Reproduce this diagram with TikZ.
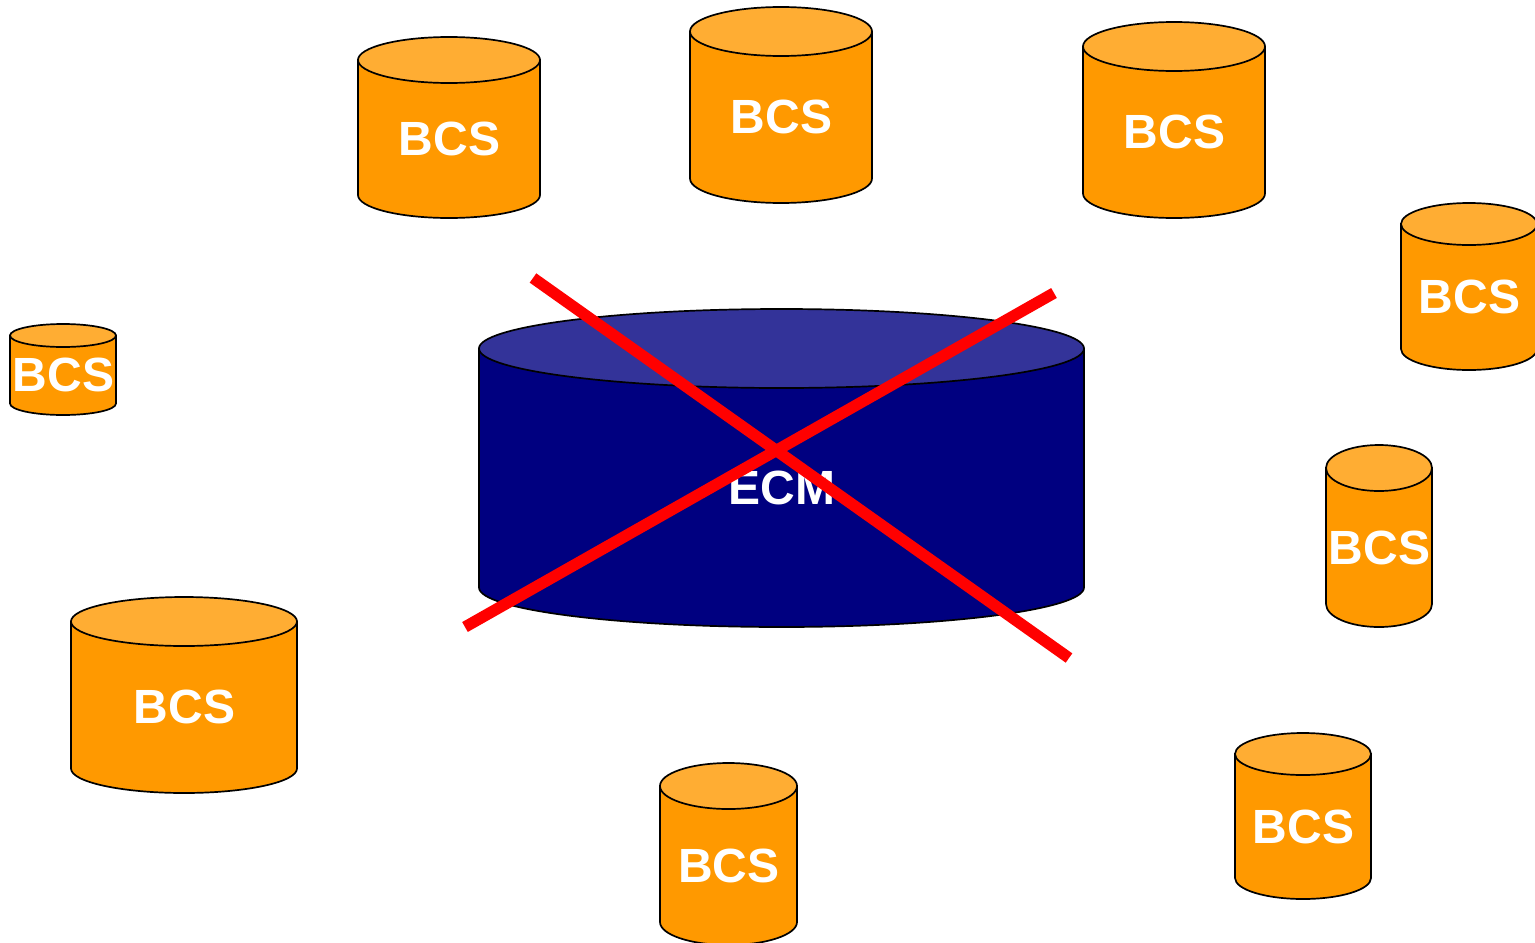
\documentclass[tikz,border=0pt]{standalone}
\usepackage{fontspec}
\setmainfont{Liberation Sans}
\usepackage{xcolor}
\usetikzlibrary{positioning, calc}
\definecolor{bcsbody}{HTML}{FF9900}
\definecolor{bcstop}{HTML}{FFAD33}
\definecolor{ecmbody}{HTML}{000080}
\definecolor{ecmtop}{HTML}{333399}
\tikzset{
    drum_line/.style={draw=black, line width=0.85pt},
    drum_text/.style={text=white, font=\bfseries\fontsize{24}{26}\selectfont, inner sep=0pt},
    cross_line/.style={draw=red, line width=5.7pt}
}
% name, left, right, top, bottom, radius of the ellipse, colours, label
\newcommand{\drum}[9]{
    \draw[drum_line, fill=#7] (#2,#4+#6) -- (#2,#5-#6) arc[start angle=180, end angle=360, x radius={(#3-#2)/2*0.5pt}, y radius=#6*0.5pt] -- (#3,#4+#6) -- cycle;
    \draw[drum_line, fill=#8] ({(#2+#3)/2},#4+#6) ellipse[x radius={(#3-#2)/2*0.5pt}, y radius=#6*0.5pt];
    \node[drum_text] (#1) at ({(#2+#3)/2+0.5},{(#4+#5+#6)/2}) {#9};
}
\begin{document}
\begin{tikzpicture}[x=0.5pt, y=-0.5pt]
    \useasboundingbox (0,0) rectangle (1535,942);
    \clip (0,0) rectangle (1535,942);
    % top row
    \drum{bcsa}{358}{540}{37}{218}{23}{bcsbody}{bcstop}{BCS}
    \drum{bcsb}{690}{872}{7}{203}{24.5}{bcsbody}{bcstop}{BCS}
    \drum{bcsc}{1083}{1265}{22}{218}{24.5}{bcsbody}{bcstop}{BCS}
    % right side
    \drum{bcsd}{1401}{1537}{203}{370}{21}{bcsbody}{bcstop}{BCS}
    \drum{bcse}{1326}{1432}{445}{627}{23}{bcsbody}{bcstop}{BCS}
    % left side
    \drum{bcsf}{10}{116}{324}{415}{11.5}{bcsbody}{bcstop}{BCS}
    \drum{bcsg}{71}{297}{597}{793}{24.5}{bcsbody}{bcstop}{BCS}
    % bottom row
    \drum{bcsh}{660}{797}{763}{945}{23}{bcsbody}{bcstop}{BCS}
    \drum{bcsi}{1235}{1371}{733}{899}{21}{bcsbody}{bcstop}{BCS}
    % ECM in the middle
    \drum{ecm}{479}{1084}{309}{627}{39.5}{ecmbody}{ecmtop}{ECM}
    % red cross
    \coordinate (crossa) at (533,278);
    \coordinate (crossb) at (1069,658);
    \coordinate (crossc) at (1054,293);
    \coordinate (crossd) at (465,627);
    \draw[cross_line] (crossa) -- (crossb);
    \draw[cross_line] (crossc) -- (crossd);
\end{tikzpicture}
\end{document}
